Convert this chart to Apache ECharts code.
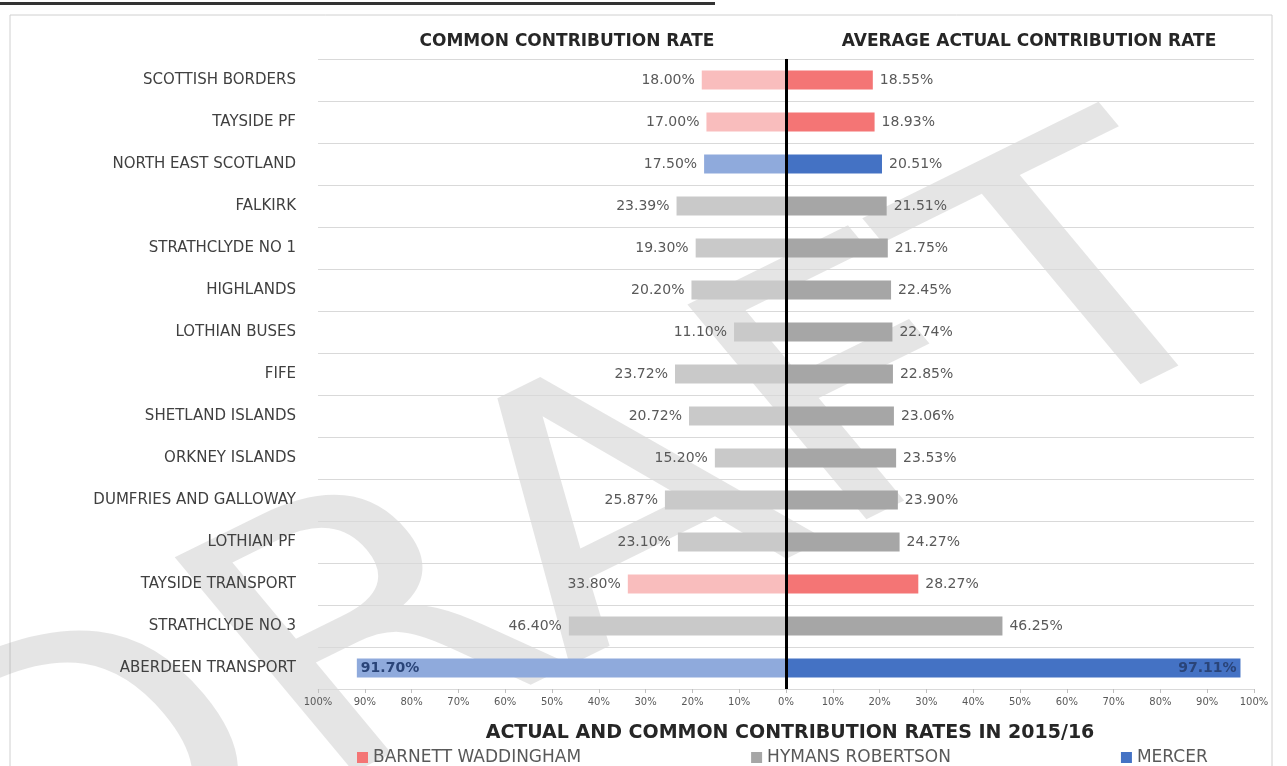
<html>
<head>
    <meta charset="utf-8">
    <title>Actual and common contribution rates</title>
    <script src="https://cdn.jsdelivr.net/npm/echarts@6/dist/echarts.min.js"></script>
    <style>
        body { margin: 0; background: #fff; }
    </style>
</head>
<body>
<div id="chartmain" style="width: 1287px; height: 766px;"></div>
<script type="text/javascript">
    // fund names, top to bottom
    var funds = ['SCOTTISH BORDERS', 'TAYSIDE PF', 'NORTH EAST SCOTLAND', 'FALKIRK', 'STRATHCLYDE NO 1',
        'HIGHLANDS', 'LOTHIAN BUSES', 'FIFE', 'SHETLAND ISLANDS', 'ORKNEY ISLANDS',
        'DUMFRIES AND GALLOWAY', 'LOTHIAN PF', 'TAYSIDE TRANSPORT', 'STRATHCLYDE NO 3', 'ABERDEEN TRANSPORT'];
    // common contribution rate (%), drawn to the left
    var commonRate = [18.00, 17.00, 17.50, 23.39, 19.30, 20.20, 11.10, 23.72, 20.72, 15.20, 25.87, 23.10, 33.80, 46.40, 91.70];
    // average actual contribution rate (%), drawn to the right
    var actualRate = [18.55, 18.93, 20.51, 21.51, 21.75, 22.45, 22.74, 22.85, 23.06, 23.53, 23.90, 24.27, 28.27, 46.25, 97.11];
    // actuary of each fund
    var actuary = ['BW', 'BW', 'M', 'HR', 'HR', 'HR', 'HR', 'HR', 'HR', 'HR', 'HR', 'HR', 'BW', 'HR', 'M'];
    var actuaryNames = {BW: 'BARNETT WADDINGHAM', HR: 'HYMANS ROBERTSON', M: 'MERCER'};
    var actuaryKeys = ['BW', 'HR', 'M'];
    var xTicks = [-100, -90, -80, -70, -60, -50, -40, -30, -20, -10, 0, 10, 20, 30, 40, 50, 60, 70, 80, 90, 100];

    var darkColor = {BW: '#F47575', HR: '#A6A6A6', M: '#4472C4'};
    var lightColor = {BW: '#F9BDBD', HR: '#C9C9C9', M: '#8FAADC'};

    var myChart = echarts.init(document.getElementById('chartmain'));

    function pct(v) {
        return Math.abs(v).toFixed(2) + '%';
    }

    // one series per actuary and side, null where the fund belongs to someone else
    function buildSeries(key, side) {
        var data = [];
        for (var i = 0; i < funds.length; i++) {
            if (actuary[i] !== key) {
                data.push(null);
                continue;
            }
            var item = {value: side === 'left' ? -commonRate[i] : actualRate[i]};
            // the long bar keeps its label inside
            if (Math.abs(item.value) > 60) {
                item.label = {
                    position: side === 'left' ? 'insideLeft' : 'insideRight',
                    color: '#2A4478', fontWeight: 'bold', distance: 4
                };
            }
            data.push(item);
        }
        return {
            name: actuaryNames[key],
            type: 'bar',
            barWidth: 19,
            barGap: '-100%',
            itemStyle: {color: side === 'left' ? lightColor[key] : darkColor[key]},
            label: {
                show: true,
                position: side === 'left' ? 'left' : 'right',
                distance: 7,
                fontFamily: 'DejaVu Sans',
                fontSize: 14,
                color: '#595959',
                formatter: function (p) { return pct(p.value); }
            },
            data: data
        };
    }

    var series = [];
    actuaryKeys.forEach(function (k) { series.push(buildSeries(k, 'right')); });
    actuaryKeys.forEach(function (k) { series.push(buildSeries(k, 'left')); });
    // thick zero line
    series[0].markLine = {
        silent: true,
        symbol: 'none',
        label: {show: false},
        lineStyle: {color: '#000', width: 3, type: 'solid'},
        data: [{xAxis: 0}]
    };

    var option = {
        animation: false,
        backgroundColor: '#fff',
        textStyle: {fontFamily: 'DejaVu Sans'},
        grid: {left: 318, right: 33, top: 59, bottom: 77},
        legend: {
            bottom: -5,
            left: 352,
            itemGap: 170,
            itemWidth: 11,
            itemHeight: 11,
            icon: 'rect',
            textStyle: {fontSize: 17, color: '#595959', fontFamily: 'DejaVu Sans'},
            data: actuaryKeys.map(function (k) {
                return {name: actuaryNames[k], itemStyle: {color: darkColor[k]}};
            })
        },
        xAxis: {
            type: 'value',
            min: xTicks[0],
            max: xTicks[xTicks.length - 1],
            interval: 10,
            axisLine: {show: true, lineStyle: {color: '#D9D9D9'}},
            axisTick: {show: true, length: 4, lineStyle: {color: '#BFBFBF'}},
            splitLine: {show: false},
            axisLabel: {
                fontSize: 10, color: '#595959', margin: 8,
                formatter: function (v) { return Math.abs(v) + '%'; }
            }
        },
        yAxis: {
            type: 'category',
            inverse: true,
            data: funds,
            axisLine: {show: true, lineStyle: {color: '#D9D9D9'}},
            axisTick: {show: true, length: 8, lineStyle: {color: '#D9D9D9'}},
            splitLine: {show: true, lineStyle: {color: '#D9D9D9'}},
            axisLabel: {fontSize: 15, color: '#404040', margin: 22}
        },
        graphic: [
            {type: 'rect', shape: {x: 10, y: 15, width: 1262, height: 780},
                style: {fill: 'none', stroke: '#D0D0D0', lineWidth: 1}, z: -1},
            {type: 'rect', shape: {x: 0, y: 2, width: 715, height: 3}, style: {fill: '#333'}},
            {type: 'text', x: 567, y: 42,
                style: {text: 'COMMON CONTRIBUTION RATE', fill: '#262626', font: 'bold 17px "DejaVu Sans"',
                    textAlign: 'center', textVerticalAlign: 'middle'}},
            {type: 'text', x: 1029, y: 42,
                style: {text: 'AVERAGE ACTUAL CONTRIBUTION RATE', fill: '#262626', font: 'bold 17px "DejaVu Sans"',
                    textAlign: 'center', textVerticalAlign: 'middle'}},
            {type: 'text', x: 790, y: 733,
                style: {text: 'ACTUAL AND COMMON CONTRIBUTION RATES IN 2015/16', fill: '#262626',
                    font: 'bold 19px "DejaVu Sans"', textAlign: 'center', textVerticalAlign: 'middle'}},
            // watermark, rotated then stretched sideways
            {type: 'group', x: 585, y: 550, scaleX: 1.3, z: 100, silent: true,
                children: [{type: 'text', rotation: 0.57, silent: true,
                    style: {text: 'DRAFT', fill: 'rgba(160,160,160,0.27)', font: '350px "DejaVu Sans"',
                        textAlign: 'center', textVerticalAlign: 'middle'}}]}
        ],
        series: series
    };

    myChart.setOption(option);
</script>
</body>
</html>
